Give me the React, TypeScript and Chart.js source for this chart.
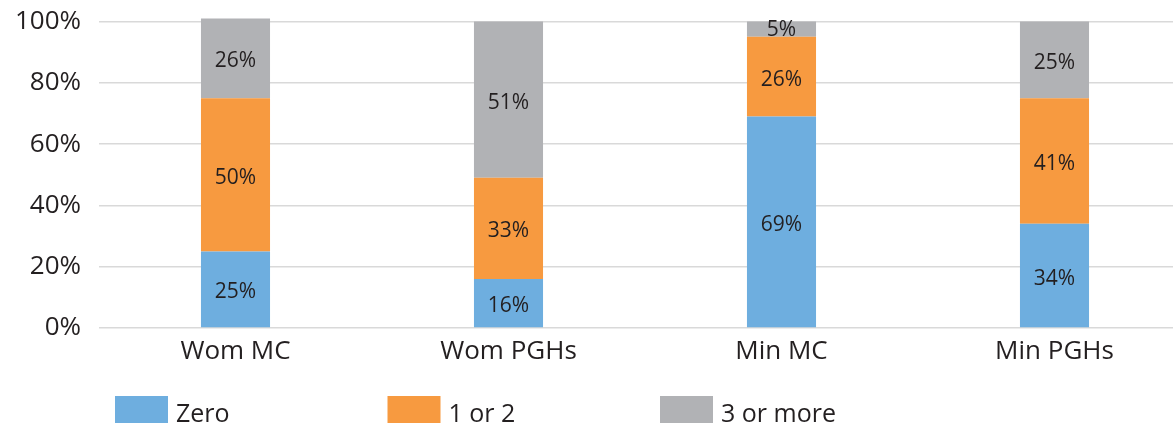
import React, { useEffect, useRef } from "react";
import { Chart, registerables } from "chart.js";

Chart.register(...registerables);

const categories = ["Wom MC", "Wom PGHs", "Min MC", "Min PGHs"];
const seriesNames = ["Zero", "1 or 2", "3 or more"];
const zeroValues = [25, 16, 69, 34];
const oneOrTwoValues = [50, 33, 26, 41];
const threeOrMoreValues = [26, 51, 5, 25];
const seriesColors = ["#6EAEDF", "#F79A40", "#B1B2B5"];
const yTicks = [0, 20, 40, 60, 80, 100];

const FONT = "'Open Sans', 'Noto Sans', sans-serif";

const labelPlugin = {
  id: "segLabels",
  afterDatasetsDraw(chart: any) {
    const ctx = chart.ctx;
    ctx.save();
    ctx.fillStyle = "#231F20";
    ctx.font = `21px ${FONT}`;
    ctx.textAlign = "center";
    ctx.textBaseline = "middle";
    chart.data.datasets.forEach((ds: any, di: number) => {
      const meta = chart.getDatasetMeta(di);
      meta.data.forEach((bar: any, i: number) => {
        const { x, y, base } = bar.getProps(["x", "y", "base"], true);
        const h = Math.abs(base - y);
        const off = h > 30 ? 3 : 1;
        ctx.fillText(`${ds.data[i]}%`, x, (y + base) / 2 + off);
      });
    });
    ctx.restore();
  },
};

const legendPlugin = {
  id: "customLegend",
  afterDraw(chart: any) {
    const ctx = chart.ctx;
    const area = chart.chartArea;
    ctx.save();
    ctx.font = `25px ${FONT}`;
    ctx.textBaseline = "alphabetic";
    ctx.textAlign = "left";
    chart.data.datasets.forEach((ds: any, i: number) => {
      const x0 = area.left + 16 + i * 272.5;
      const y0 = area.bottom + 68;
      ctx.fillStyle = ds.backgroundColor;
      ctx.fillRect(x0, y0, 53, 34);
      ctx.fillStyle = "#231F20";
      ctx.fillText(ds.label, x0 + 61, y0 + 26);
    });
    ctx.restore();
  },
};

export default function App() {
  const ref = useRef<HTMLCanvasElement>(null);
  useEffect(() => {
    document.body.style.margin = "0";
    const chart = new Chart(ref.current!, {
      type: "bar",
      data: {
        labels: categories,
        datasets: [zeroValues, oneOrTwoValues, threeOrMoreValues].map((d, i) => ({
          label: seriesNames[i],
          data: d,
          backgroundColor: seriesColors[i],
          borderWidth: 0,
          categoryPercentage: 1,
          barPercentage: 0.253,
          clip: false as any,
        })),
      },
      options: {
        responsive: false,
        animation: false,
        maintainAspectRatio: false,
        layout: { padding: { top: 21.5, right: 0, left: 0, bottom: 0 } },
        plugins: {
          legend: { display: false },
          tooltip: { enabled: false },
        },
        scales: {
          x: {
            stacked: true,
            grid: { display: false },
            border: { display: false },
            ticks: {
              color: "#231F20",
              font: { family: FONT, size: 26 },
              padding: 0,
            },
            afterFit(scale: any) {
              scale.height = 112;
              scale.paddingLeft = 0;
              scale.paddingRight = 0;
            },
          },
          y: {
            stacked: true,
            min: 0,
            max: 100,
            afterBuildTicks(scale: any) {
              scale.ticks = yTicks.map((v) => ({ value: v }));
            },
            grid: { color: "#D9D9D9", lineWidth: 1.5, drawTicks: false },
            border: { display: false },
            ticks: {
              color: "#231F20",
              font: { family: FONT, size: 26 },
              padding: 18,
              callback: (v: any) => `${v}%`,
            },
            afterFit(scale: any) {
              scale.width = 99;
              scale.paddingTop = 0;
              scale.paddingBottom = 0;
            },
          },
        },
      },
      plugins: [labelPlugin, legendPlugin],
    });
    return () => chart.destroy();
  }, []);
  return (
    <div style={{ width: 1173, height: 423, overflow: "hidden", position: "relative" }}>
      <canvas ref={ref} width={1191} height={440} style={{ display: "block" }} />
    </div>
  );
}
